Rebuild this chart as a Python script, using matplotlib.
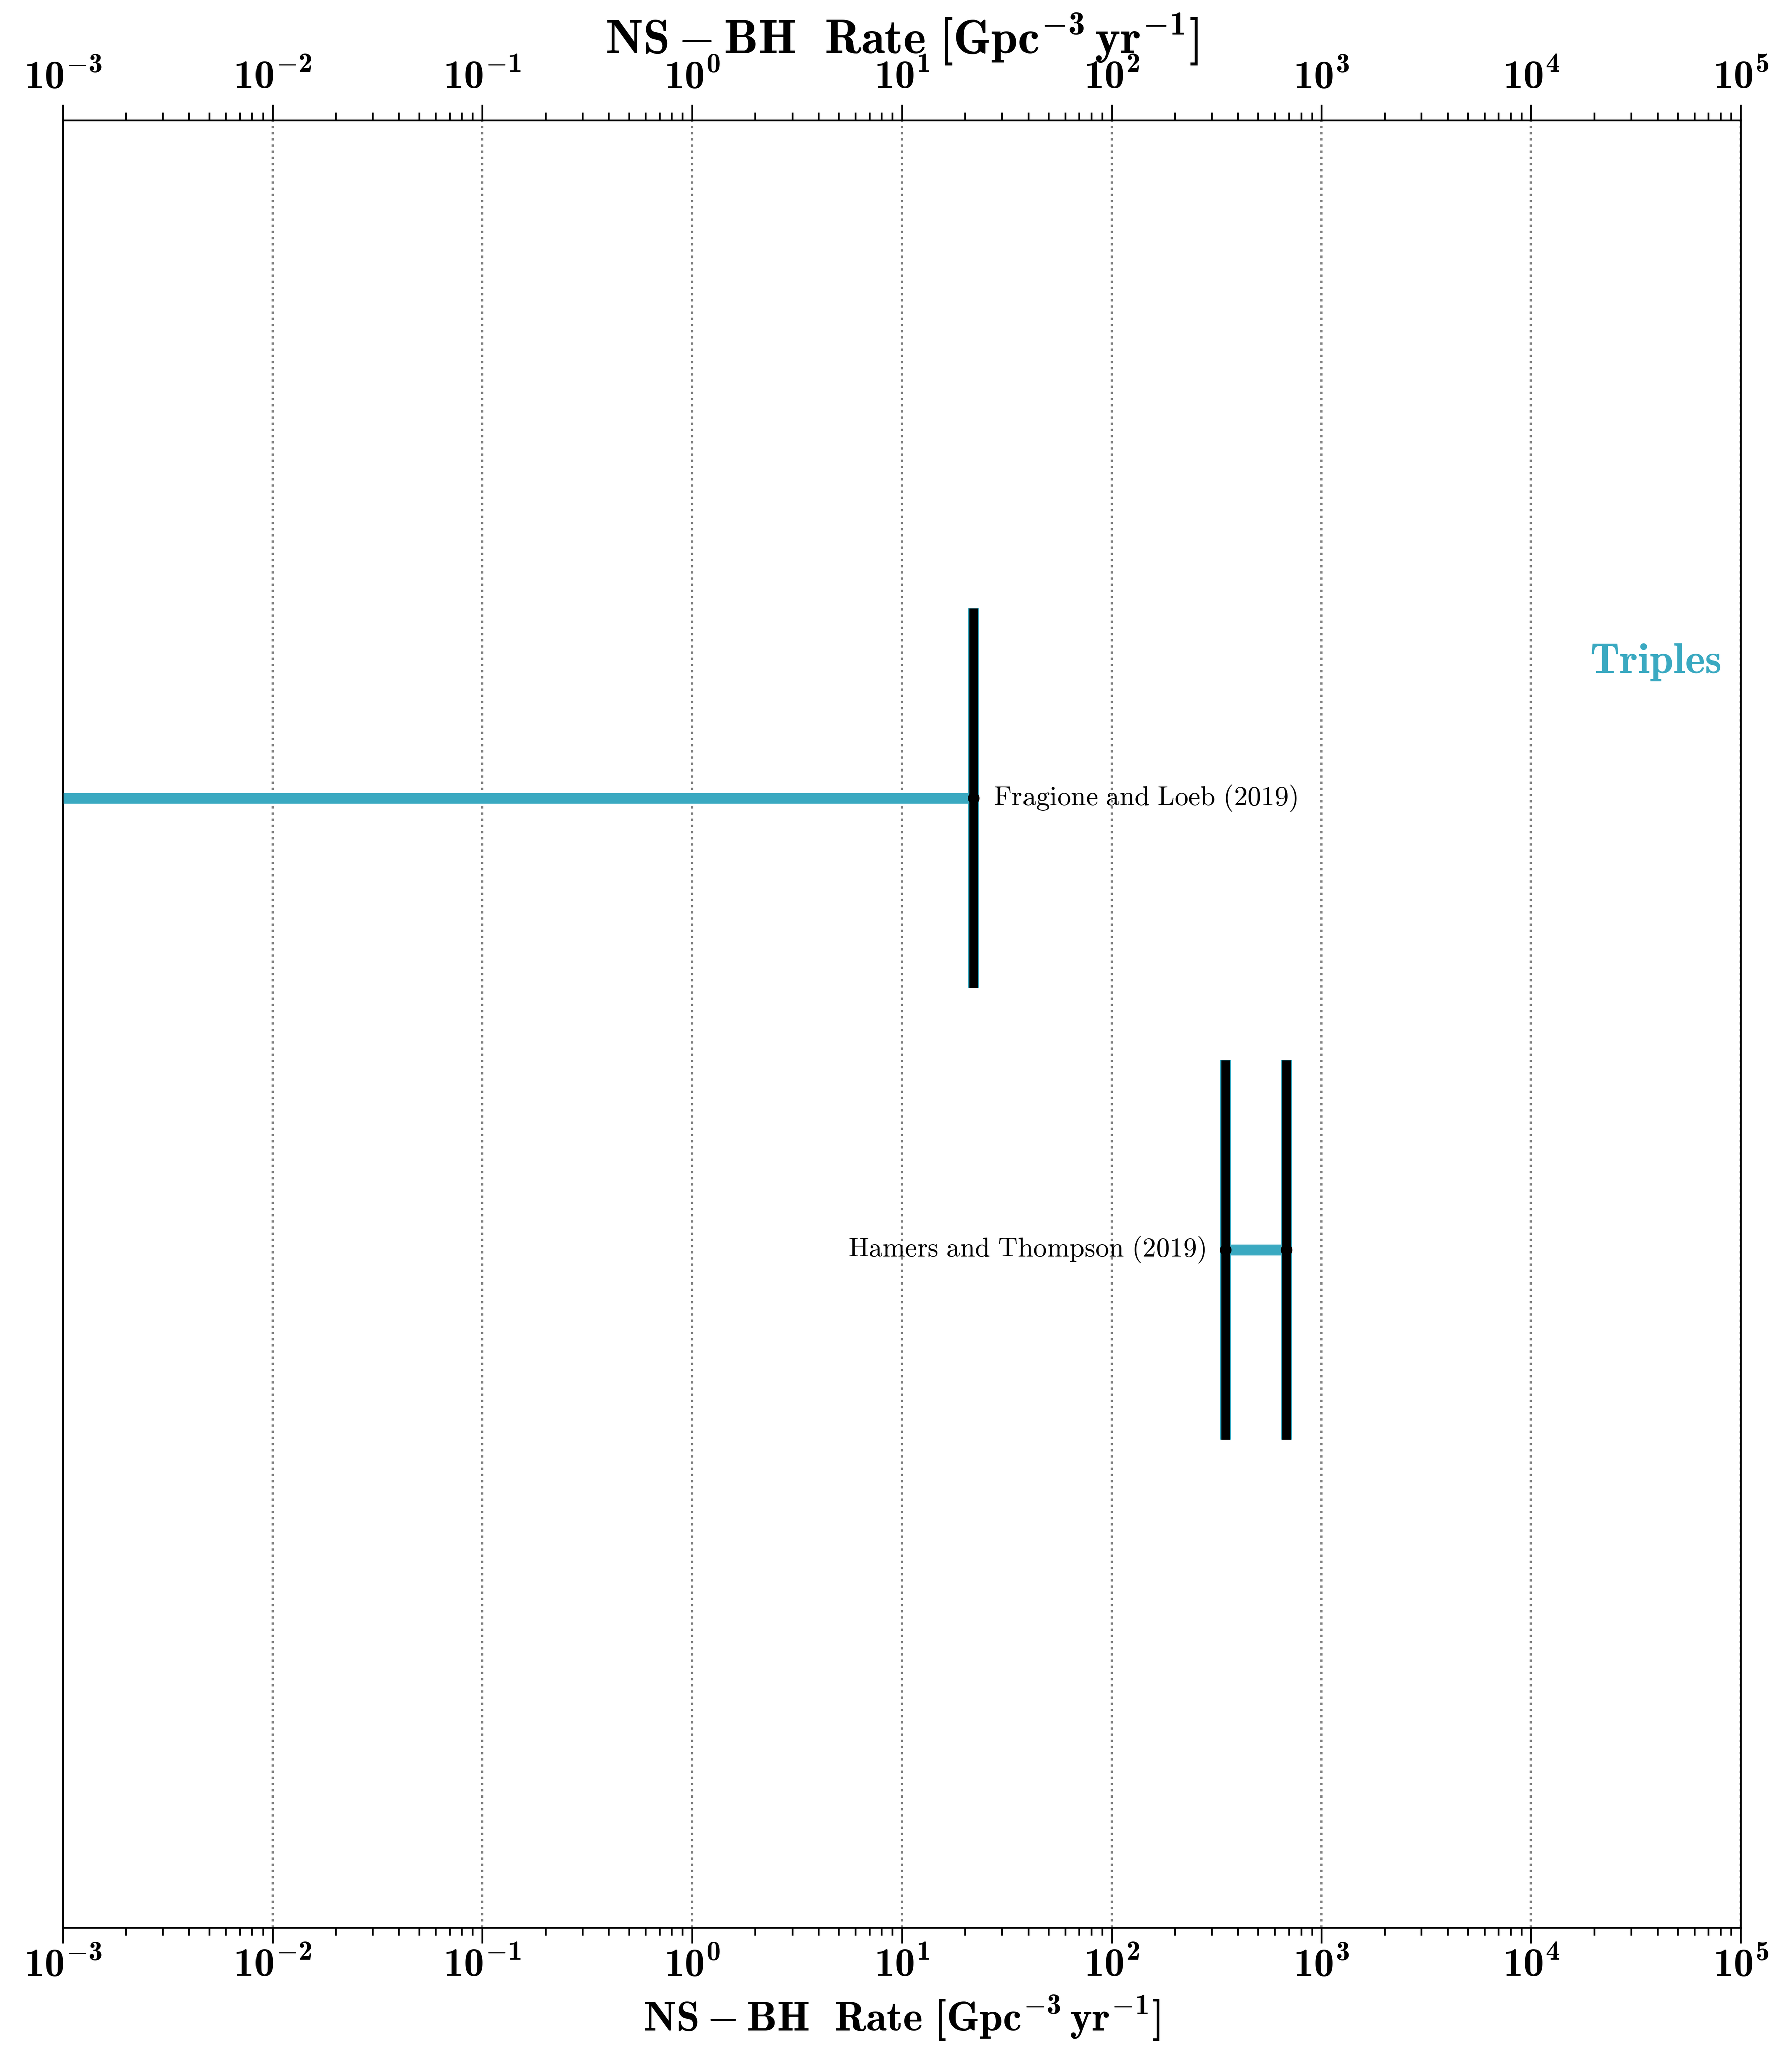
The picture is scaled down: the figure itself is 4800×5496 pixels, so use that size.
import numpy as np
from matplotlib import pyplot as plt
from matplotlib import ticker

plt.rcParams['mathtext.fontset'] = 'custom'
plt.rcParams['mathtext.rm'] = 'cmr10'
plt.rcParams['mathtext.bf'] = 'cmb10'
plt.rcParams['mathtext.it'] = 'cmmi10'
plt.rcParams['mathtext.fallback'] = 'cm'
plt.rcParams['font.family'] = 'serif'
plt.rcParams['font.serif'] = ['cmr10', 'DejaVu Serif']
plt.rcParams['axes.unicode_minus'] = False

# rate ranges (Gpc^-3 yr^-1)
studies = ["Fragione and Loeb (2019)", "Hamers and Thompson (2019)"]
rate_lo = [1.9e-4, 350.0]
rate_hi = [22.0, 680.0]
ypos = [2.5, 1.5]
label_side = ["right", "left"]
group_name = "Triples"

cyan = '#3AA9C1'
xlabel = r'$\mathbf{NS-BH\ \ Rate\ [Gpc^{-3}\,yr^{-1}]}$'

fig = plt.figure(figsize=(16, 18.32), dpi=300)
ax = fig.add_subplot(111)
fig.subplots_adjust(left=0.035, right=0.9715, top=0.9414, bottom=0.0606)

for name, lo, hi, y, side in zip(studies, rate_lo, rate_hi, ypos, label_side):
    ax.plot([lo, hi], [y, y], color=cyan, lw=7, solid_capstyle='butt', zorder=3)
    for x in (lo, hi):
        ax.plot([x, x], [y - 0.42, y + 0.42], color=cyan, lw=7.2,
                solid_capstyle='butt', zorder=4)
        ax.plot([x, x], [y - 0.42, y + 0.42], color='black', lw=5.6,
                solid_capstyle='butt', zorder=5)
    ax.plot([lo, hi], [y, y], 'o', color='black', ms=6.5, zorder=6)
    txt = r'$\mathrm{%s}$' % name.replace(' ', r'\ ')
    if side == "right":
        ax.text(hi * 1.25, y, txt, fontsize=17.5, ha='left', va='center')
    else:
        ax.text(lo / 1.25, y, txt, fontsize=17.5, ha='right', va='center')

ax.text(1.9e4, 2.8, r'$\mathbf{%s}$' % group_name, color=cyan, fontsize=27.5,
        ha='left', va='center')

ax.set_xscale('log')
ax.set_xlim(1e-3, 1e5)
ax.set_ylim(0, 4)
ax.set_yticks([])
ax.grid(axis='x', which='major', color='gray', linestyle=':', lw=1.5)

fmt = ticker.FuncFormatter(lambda v, p: r'$\mathbf{10^{%d}}$' % int(round(np.log10(v))))


def style_axis(a, label_size, labelpad):
    a.xaxis.set_major_locator(ticker.LogLocator(base=10, numticks=20))
    a.xaxis.set_minor_locator(ticker.LogLocator(base=10, subs=np.arange(2, 10), numticks=100))
    a.xaxis.set_minor_formatter(ticker.NullFormatter())
    a.xaxis.set_major_formatter(fmt)
    a.tick_params(axis='x', which='major', length=10, width=1.1, labelsize=26, pad=3)
    a.tick_params(axis='x', which='minor', length=5, width=1.1)
    a.set_xlabel(xlabel, fontsize=label_size, labelpad=labelpad)


style_axis(ax, 27, 6)
for s in ax.spines.values():
    s.set_linewidth(1.1)

top = ax.twiny()
top.set_xscale('log')
top.set_xlim(ax.get_xlim())
style_axis(top, 31, 4)
top.tick_params(axis='x', which='major', pad=5.5)

fig.savefig('out.png', dpi=300)
